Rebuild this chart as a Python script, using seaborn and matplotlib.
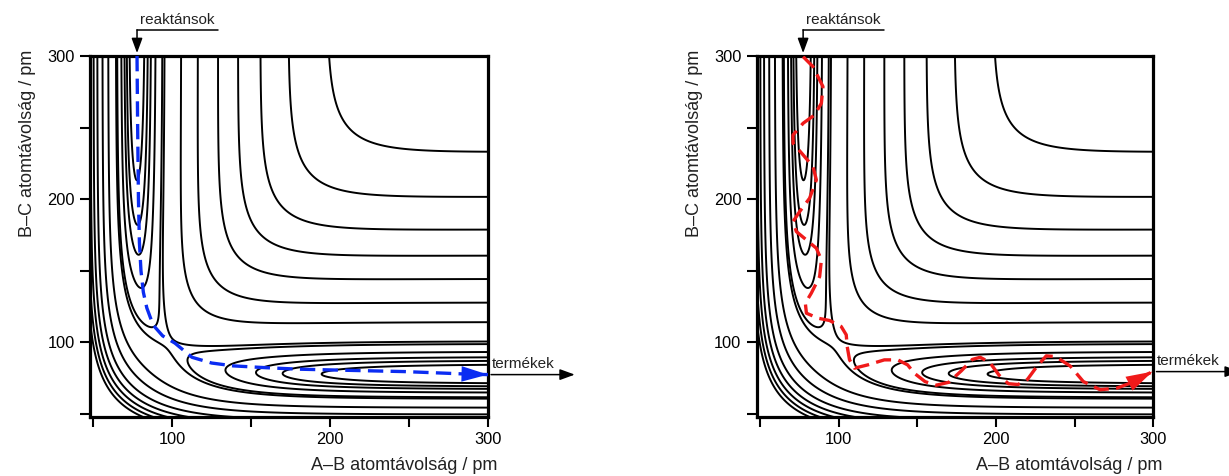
import numpy as np
import pandas as pd
import matplotlib
matplotlib.use("Agg")
import matplotlib.pyplot as plt
import seaborn as sns

# Collinear A–B–C potential energy surface in LEPS form
well_depth = 458.0      # kJ/mol, same for every atom pair
beta_ab = 0.0200        # 1/pm
beta_bc = 0.0155        # 1/pm
beta_ac = 0.0178        # 1/pm
bond_length = 77.5      # pm
sato = 0.14

# Contour energies, kJ/mol above the reactant valley floor
levels_below_saddle = [5.0, 9.0, 13.6, 21.8, 36.4]
levels_above_saddle = [41.7, 86.0, 134.2, 190.4, 240.2, 287.3, 334.1, 379.6]

# Trajectory over the barrier along the minimum energy path (r_AB, r_BC in pm)
direct_ab = [77.8, 78.2, 78.7, 79.3, 80.3, 81.8, 84.0, 88.0, 94.0, 101.8, 112.6,
             125.0, 138.7, 160.0, 180.0, 215.0, 247.4, 275.0, 286.0, 300.0]
direct_bc = [300.0, 250.0, 200.0, 170.0, 150.0, 135.0, 124.0, 112.0, 104.5, 99.4, 89.5,
             85.5, 83.5, 82.2, 81.2, 80.3, 79.5, 78.3, 77.8, 77.4]

# Trajectory with vibrationally excited reactant and product
wavy_ab = [77.5, 83.8, 90.1, 89.1, 84.8, 77.5, 71.1, 71.1, 77.5, 83.8, 85.9, 81.6,
           75.3, 71.1, 73.2, 79.6, 85.9, 89.1, 88.0, 82.7, 78.9, 79.6, 87.0, 94.3,
           101.7, 104.9, 105.5, 107.0, 110.1, 118.6, 129.1, 137.6, 143.9, 148.1,
           155.0, 162.0, 170.0, 178.0, 185.0, 190.0, 196.0, 202.0, 208.0, 214.0,
           220.0, 226.0, 232.0, 238.0, 247.3, 255.5, 266.2, 277.0, 285.2, 299.5]
wavy_bc = [299.5, 292.5, 278.6, 267.0, 258.8, 253.0, 244.8, 239.0, 230.9, 222.7, 213.4, 200.6,
           191.3, 184.3, 177.3, 171.5, 165.7, 157.5, 145.9, 134.3, 127.3, 120.3, 116.8, 115.2,
           111.0, 105.2, 97.0, 87.7, 81.9, 84.2, 87.7, 87.7, 84.2, 78.4,
           72.5, 70.0, 72.0, 80.0, 88.0, 89.5, 86.0, 77.0, 71.0, 70.5,
           74.0, 83.0, 90.5, 90.0, 83.3, 72.6, 66.8, 68.0, 71.4, 79.5]

tick_values = [50, 100, 150, 200, 250, 300]
tick_labels = ["", "100", "", "200", "", "300"]
axis_min, axis_max = 48, 300

x_title = "A–B atomtávolság / pm"
y_title = "B–C atomtávolság / pm"
reactant_label = "reaktánsok"
product_label = "termékek"


def coulomb(r, beta):
    e = np.exp(-beta * (r - bond_length))
    return well_depth / 4 * ((3 + sato) * e ** 2 - (2 + 6 * sato) * e)


def exchange(r, beta):
    e = np.exp(-beta * (r - bond_length))
    return well_depth / 4 * ((1 + 3 * sato) * e ** 2 - (6 + 2 * sato) * e)


def leps(r_ab, r_bc):
    r_ac = r_ab + r_bc
    q = coulomb(r_ab, beta_ab) + coulomb(r_bc, beta_bc) + coulomb(r_ac, beta_ac)
    ja, jb, jc = exchange(r_ab, beta_ab), exchange(r_bc, beta_bc), exchange(r_ac, beta_ac)
    v = (q - np.sqrt(0.5 * ((ja - jb) ** 2 + (jb - jc) ** 2 + (jc - ja) ** 2))) / (1 + sato)
    return v + well_depth


sns.set_theme(style="ticks")
plt.rcParams["font.family"] = ["Liberation Sans", "DejaVu Sans"]

grid = np.linspace(axis_min - 3, axis_max + 3, 800)
RAB, RBC = np.meshgrid(grid, grid)
energy = leps(RAB, RBC)
levels = sorted(levels_below_saddle + levels_above_saddle)

fig = plt.figure(figsize=(12.29, 4.76), dpi=100)
panel_boxes = [[0.0732, 0.1246, 0.3238, 0.7578], [0.6157, 0.1246, 0.3227, 0.7578]]
paths = [(direct_ab, direct_bc, "#0b2cf2"), (wavy_ab, wavy_bc, "#f01a1a")]

for box, (p_ab, p_bc, color) in zip(panel_boxes, paths):
    ax = fig.add_axes(box)
    ax.contour(RAB, RBC, energy, levels=levels, colors="black", linewidths=1.4, zorder=2)

    df = pd.DataFrame({"rab": p_ab, "rbc": p_bc})
    sns.lineplot(data=df, x="rab", y="rbc", sort=False, estimator=None, color=color,
                 linewidth=2.4, ax=ax, zorder=4)
    path_line = ax.lines[-1]
    path_line.set_dashes([4.6, 2.2])
    path_line.set_dash_capstyle("butt")

    # arrow head at the end of the trajectory
    ax.annotate("", xy=(p_ab[-1], p_bc[-1]), xytext=(p_ab[-2], p_bc[-2]),
                arrowprops=dict(arrowstyle="-|>,head_length=0.95,head_width=0.28",
                                color=color, lw=0, mutation_scale=20, shrinkA=0, shrinkB=0),
                annotation_clip=False, zorder=5)

    ax.set_xlim(axis_min, axis_max)
    ax.set_ylim(axis_min, axis_max)
    ax.set_xticks(tick_values)
    ax.set_xticklabels(tick_labels)
    ax.set_yticks(tick_values)
    ax.set_yticklabels(tick_labels)
    ax.tick_params(direction="out", length=7, width=1.5, labelsize=11.8, pad=4,
                   colors="black")
    for spine in ax.spines.values():
        spine.set_linewidth(2.3)
        spine.set_color("black")
        spine.set_visible(True)

    ax.set_xlabel(x_title, fontsize=13, loc="right", color="#222222")
    ax.xaxis.set_label_coords(1.024, -0.113)
    ax.set_ylabel(y_title, fontsize=13, loc="top", color="#222222")
    ax.yaxis.set_label_coords(-0.135, 1.017)

    # reactants enter from the top of the valley
    x0 = p_ab[0]
    ax.plot([x0, 129.0], [318.0, 318.0], color="black", lw=1.1, clip_on=False)
    ax.annotate("", xy=(x0, 302.0), xytext=(x0, 318.3),
                arrowprops=dict(arrowstyle="-|>,head_length=0.9,head_width=0.33",
                                color="black", lw=1.1, mutation_scale=10,
                                shrinkA=0, shrinkB=0),
                annotation_clip=False)
    ax.text(103.0, 322.5, reactant_label, ha="center", va="baseline",
            fontsize=11, color="#222222")

    # products leave along the bottom valley
    y1 = p_bc[-1]
    ax.annotate("", xy=(355.0, y1), xytext=(302.0, y1),
                arrowprops=dict(arrowstyle="-|>,head_length=0.9,head_width=0.33",
                                color="black", lw=1.1, mutation_scale=10,
                                shrinkA=0, shrinkB=0),
                annotation_clip=False)
    ax.text(302.5, y1 + 4.6, product_label, ha="left", va="baseline",
            fontsize=11, color="#222222")

fig.savefig("out.png", dpi=100)
